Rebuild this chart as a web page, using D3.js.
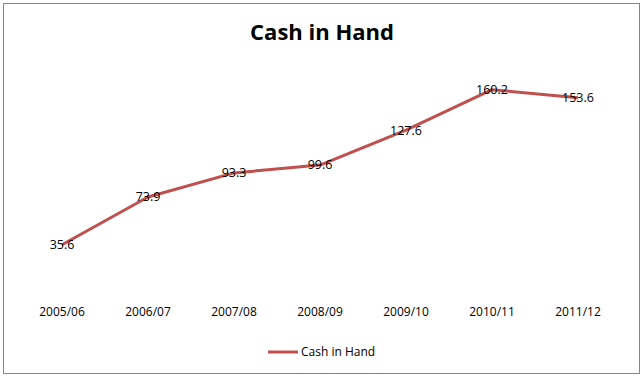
<!DOCTYPE html>
<html>
<head>
<meta charset="utf-8">
<script src="https://cdn.jsdelivr.net/npm/d3@7"></script>
<style>
  body { margin: 0; background: #fff; }
  svg text { font-family: "Open Sans", "Liberation Sans", sans-serif; }
</style>
</head>
<body>
<div id="vis"></div>
<script>
// chart data
const years = ["2005/06", "2006/07", "2007/08", "2008/09", "2009/10", "2010/11", "2011/12"];
const cash = [35.6, 73.9, 93.3, 99.6, 127.6, 160.2, 153.6];
const seriesName = "Cash in Hand";

const width = 644, height = 380;
const svg = d3.select("#vis").append("svg")
    .attr("width", width)
    .attr("height", height);

// outer frame
svg.append("rect")
    .attr("x", 3.5).attr("y", 3.5)
    .attr("width", 636).attr("height", 370)
    .attr("fill", "#fff")
    .attr("stroke", "#868686");

svg.append("text")
    .attr("x", 322).attr("y", 40)
    .attr("text-anchor", "middle")
    .style("font-size", "22px")
    .style("font-weight", "bold")
    .text("Cash in Hand");

const x = d3.scaleBand().domain(years).range([19, 621]);
const y = d3.scaleLinear().domain([0, 180]).range([289, 65]);

const xAxis = svg.append("g")
    .attr("transform", "translate(0,289)")
    .call(d3.axisBottom(x).tickSize(0).tickPadding(18));
xAxis.select(".domain").remove();
xAxis.selectAll("text")
    .style("font-size", "12px")
    .style("font-family", "'Open Sans', 'Liberation Sans', sans-serif")
    .attr("fill", "#000");

const line = d3.line()
    .x((d, i) => x(years[i]) + x.bandwidth() / 2)
    .y(d => y(d));

svg.append("path")
    .datum(cash)
    .attr("d", line)
    .attr("fill", "none")
    .attr("stroke", "#C0504D")
    .attr("stroke-width", 3)
    .attr("stroke-linejoin", "round");

svg.selectAll(".lbl")
    .data(cash)
    .enter()
    .append("text")
    .attr("class", "lbl")
    .attr("x", (d, i) => x(years[i]) + x.bandwidth() / 2)
    .attr("y", d => y(d))
    .attr("dy", "0.35em")
    .attr("text-anchor", "middle")
    .style("font-size", "12.5px")
    .text(d => d.toFixed(1));

// legend
svg.append("line")
    .attr("x1", 268).attr("x2", 298)
    .attr("y1", 352).attr("y2", 352)
    .attr("stroke", "#C0504D")
    .attr("stroke-width", 3);
svg.append("text")
    .attr("x", 301).attr("y", 352)
    .attr("dy", "0.35em")
    .style("font-size", "12px")
    .text(seriesName);
</script>
</body>
</html>
